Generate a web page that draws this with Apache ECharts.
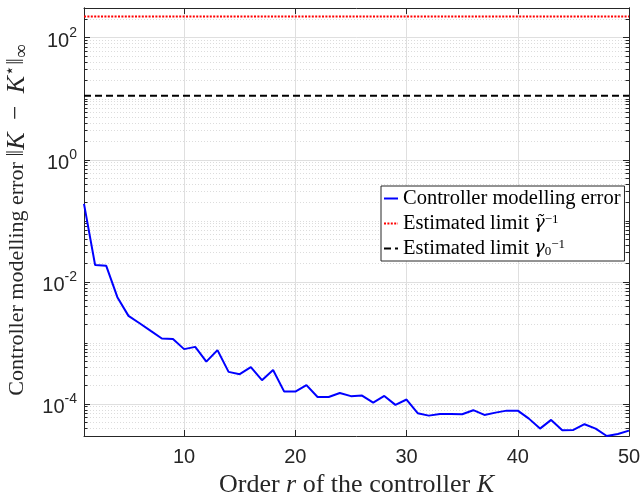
<!DOCTYPE html>
<html><head><meta charset="utf-8">
<script src="https://cdn.jsdelivr.net/npm/echarts@6/dist/echarts.min.js"></script>
<style>html,body{margin:0;padding:0;background:#fff}#c{width:640px;height:495px}</style>
</head><body><div id="c"></div>
<script>
// ---- data ----
const orders = [];
for (let r = 1; r <= 50; r++) orders.push(r);
const modelError = [
  0.190, 0.0188, 0.0183, 0.00561, 0.00277, 0.00210, 0.00157, 0.00118, 0.00116, 0.00079,
  0.00086, 0.000493, 0.00076, 0.000335, 0.000307, 0.000400, 0.000245, 0.000360, 0.000159, 0.000159,
  0.000203, 0.000130, 0.000130, 0.000151, 0.000134, 0.000137, 0.000105, 0.000135, 0.0000964, 0.000118,
  0.0000705, 0.0000643, 0.0000686, 0.0000686, 0.0000678, 0.0000789, 0.0000660, 0.0000720, 0.0000776, 0.0000776,
  0.0000574, 0.0000394, 0.0000547, 0.0000371, 0.0000375, 0.0000465, 0.0000394, 0.0000298, 0.0000322, 0.0000365
];
const limitTilde = 223;   // estimated limit gamma~^-1
const limitZero = 11.2;   // estimated limit gamma_0^-1
const yMin = 2.98e-5, yMax = 307;
const xMin = 1, xMax = 50;
const xTickLabels = [10, 20, 30, 40, 50];
const yMajorTicks = [1e-4, 1e-2, 1, 100];
const yMinorMultipliers = [1, 2, 3, 4, 5, 6, 7, 8, 9];
const yDecades = [-5, -4, -3, -2, -1, 0, 1, 2];

const legendNames = ['err', 'gt', 'g0'];
const legendLabels = {
  err: 'Controller modelling error',
  gt: 'Estimated limit {g|γ̃}{sup|−1}',
  g0: 'Estimated limit {g|γ}{sub|0}{sup|−1}'
};

// ---- build ----
const yMinorTicks = [];
yDecades.forEach(d => yMinorMultipliers.forEach(m => {
  const v = m * Math.pow(10, d);
  if (v > yMin && v < yMax && !yMajorTicks.some(t => Math.abs(t - v) / t < 1e-9)) yMinorTicks.push(v);
}));

const axisCol = '#262626';
const serif = '"Liberation Serif", "DejaVu Serif", serif';
const sans = '"Liberation Sans", Arial, sans-serif';

function yAxisDef(pos, ticks, major, showSplit) {
  return {
    type: 'log', logBase: 10, min: yMin, max: yMax, position: pos,
    axisLine: { show: true, onZero: false, lineStyle: { color: axisCol, width: 1 } },
    axisTick: { show: true, inside: true, length: major ? 6 : 3.5, customValues: ticks,
                lineStyle: { color: axisCol, width: 1 } },
    axisLabel: {
      show: major && pos === 'left', customValues: ticks, margin: 7,
      formatter: v => '{b|10}{s|' + Math.round(Math.log10(v)) + '}',
      rich: {
        b: { fontFamily: sans, fontSize: 20, color: axisCol, padding: [8, 0, 0, 0] },
        s: { fontFamily: sans, fontSize: 14, color: axisCol, padding: [0, 0, 10, 0] }
      }
    },
    splitLine: { show: showSplit, lineStyle: major
      ? { color: '#dfdfdf', width: 1, type: 'solid' }
      : { color: '#dcdcdc', width: 1, type: [1, 2] } },
    minorTick: { show: false }, minorSplitLine: { show: false },
    name: (major && pos === 'left') ? 'Controller modelling error {n|‖}{i|K}{n|\u2002−\u2002}{i|K}{sup|⋆}{n|‖}{sub|∞}' : '',
    nameLocation: 'middle', nameRotate: 90, nameGap: 52,
    nameTextStyle: {
      fontFamily: serif, fontSize: 22, color: axisCol, padding: [0, 0, 0, 4],
      rich: {
        n: { fontFamily: serif, fontSize: 25, color: axisCol },
        i: { fontFamily: serif, fontSize: 26, fontStyle: 'italic', color: axisCol },
        sup: { fontFamily: serif, fontSize: 17, color: axisCol, padding: [0, 0, 12, 0] },
        sub: { fontFamily: serif, fontSize: 19, color: axisCol, padding: [10, 0, 0, 0] }
      }
    }
  };
}

function xAxisDef(pos, showLabel) {
  return {
    type: 'value', min: xMin, max: xMax, position: pos,
    axisLine: { show: true, onZero: false, lineStyle: { color: axisCol, width: 1 } },
    axisTick: { show: true, inside: true, length: 6, lineStyle: { color: axisCol } },
    axisLabel: { show: showLabel, margin: 11, fontFamily: sans, fontSize: 20, color: axisCol,
      formatter: v => xTickLabels.indexOf(v) >= 0 ? String(v) : '' },
    splitLine: { show: pos === 'bottom', lineStyle: { color: '#dfdfdf', width: 1 } },
    name: showLabel ? 'Order {i|r} of the controller {i|K}' : '',
    nameLocation: 'middle', nameGap: 29,
    nameTextStyle: { fontFamily: serif, fontSize: 26, color: axisCol,
      rich: { i: { fontFamily: serif, fontSize: 26, fontStyle: 'italic', color: axisCol } } }
  };
}

const chart = echarts.init(document.getElementById('c'), null, { renderer: 'canvas' });
chart.setOption({
  animation: false,
  backgroundColor: '#ffffff',
  grid: { left: 84, right: 11, top: 8, bottom: 59, containLabel: false, outerBoundsMode: 'none' },
  xAxis: [xAxisDef('bottom', true), xAxisDef('top', false)],
  yAxis: [
    yAxisDef('left', yMajorTicks, true, true),
    yAxisDef('left', yMinorTicks, false, true),
    yAxisDef('right', yMajorTicks, true, false),
    yAxisDef('right', yMinorTicks, false, false)
  ],
  legend: {
    orient: 'vertical', left: 381, top: 186,
    data: legendNames,
    backgroundColor: '#ffffff', borderColor: axisCol, borderWidth: 1, borderRadius: 0,
    padding: [2, 4, 2, 2], itemGap: 4, itemWidth: 14, itemHeight: 14,
    itemStyle: { color: 'rgba(0,0,0,0)', borderWidth: 0, opacity: 0 },
    formatter: name => legendLabels[name],
    textStyle: {
      fontFamily: serif, fontSize: 20.5, color: '#000', lineHeight: 19,
      rich: {
        g: { fontFamily: '"DejaVu Serif", serif', fontSize: 18, fontStyle: 'italic', color: '#000', lineHeight: 19 },
        sup: { fontFamily: serif, fontSize: 13, color: '#000', padding: [0, 0, 8, 0], lineHeight: 19 },
        sub: { fontFamily: serif, fontSize: 13, color: '#000', padding: [7, 0, 0, 0], lineHeight: 19 }
      }
    }
  },
  series: [
    {
      name: 'err', type: 'line', xAxisIndex: 0, yAxisIndex: 0, symbol: 'none',
      color: '#0000ff', lineStyle: { color: '#0000ff', width: 2 },
      data: orders.map((r, i) => [r, modelError[i]]), z: 5
    },
    {
      name: 'gt', type: 'line', xAxisIndex: 0, yAxisIndex: 0, symbol: 'none',
      color: '#ff0000', lineStyle: { color: '#ff0000', width: 2, type: [2, 1.4] },
      data: [[xMin, limitTilde], [xMax, limitTilde]], z: 4
    },
    {
      name: 'g0', type: 'line', xAxisIndex: 0, yAxisIndex: 0, symbol: 'none',
      color: '#000000', lineStyle: { color: '#000000', width: 2, type: [7, 4] },
      data: [[xMin, limitZero], [xMax, limitZero]], z: 4
    }
  ]
});
</script>
</body></html>
